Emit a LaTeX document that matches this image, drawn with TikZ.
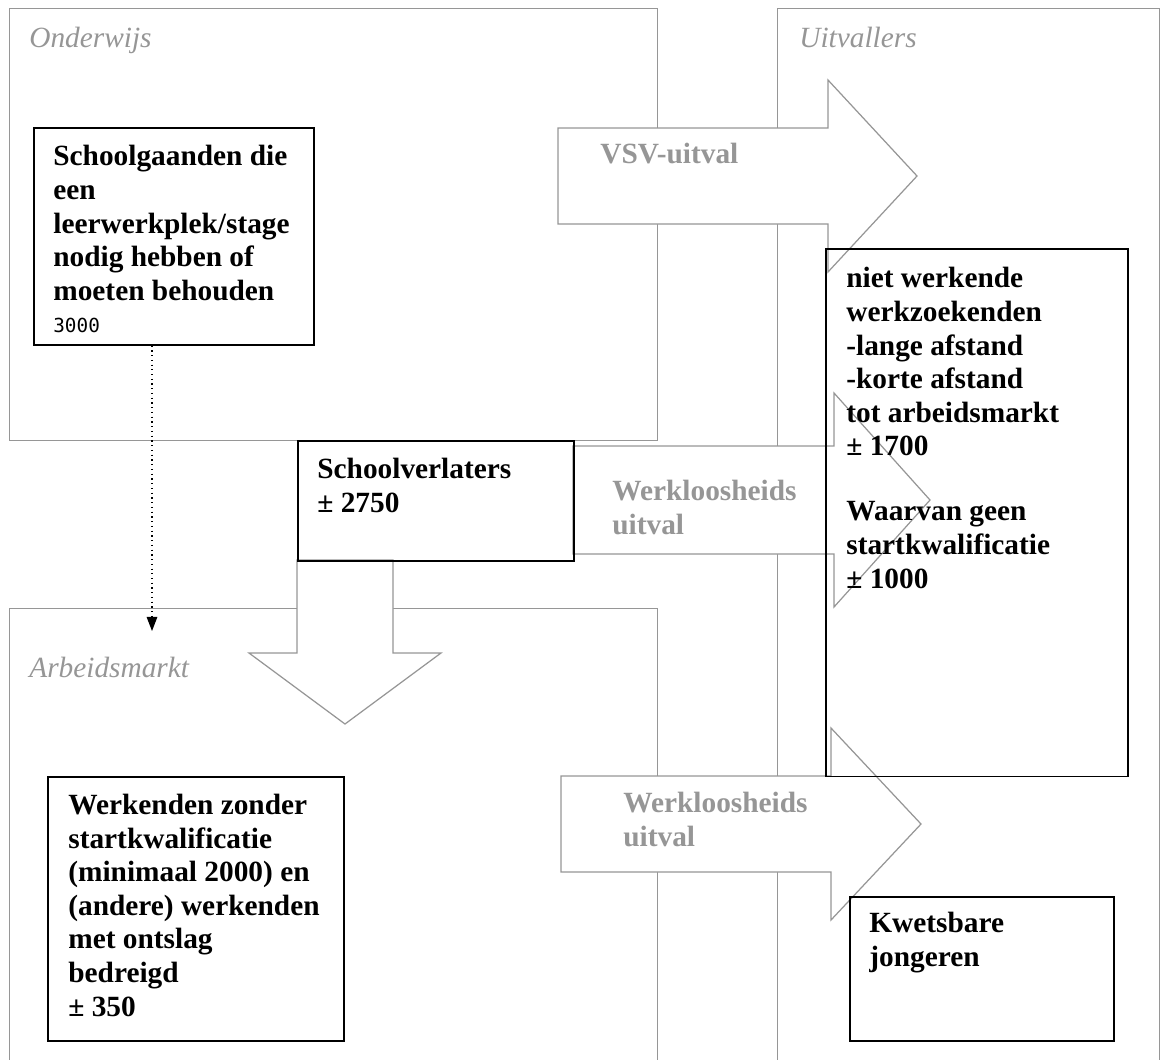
\documentclass[tikz,border=0pt]{standalone}
\usepackage{fontspec}
\setmainfont{Liberation Serif}
\newfontfamily\numfont{DejaVu Sans Mono}
\usetikzlibrary{arrows.meta}
\definecolor{areagray}{RGB}{150,150,150}

\begin{document}
\begin{tikzpicture}[x=0.02cm, y=-0.02cm,
          area/.style = {draw=areagray, line width=.7pt, anchor=north west, inner sep=0},
          blk/.style = {draw, line width=.9pt, anchor=north west, inner sep=0},
          bigarrow/.style = {draw=areagray, fill=white, line width=.7pt},
          txt/.style = {anchor=base west, align=left, inner sep=0, font=\bfseries\fontsize{16.7}{19.1}\selectfont},
          areatxt/.style = {anchor=base west, inner sep=0, text=areagray, font=\itshape\fontsize{16.7}{19.1}\selectfont},
          arrtxt/.style = {txt, text=areagray}]
        \useasboundingbox (0,0) rectangle (1162,1059);
        % the three areas
        \node[area, minimum width=12.96cm, minimum height=8.64cm] (ow) at (9,8) {};
        \node[area, minimum width=7.64cm, minimum height=21.5cm] (uv) at (777,8) {};
        \node[area, minimum width=12.96cm, minimum height=9.5cm] (am) at (9,608) {};
        % block arrows
        \foreach \xa/\xb/\xc/\ya/\yb/\h in {558/828/917/128/224/48, 573/834/930/446/554/53, 561/831/921/776/872/48}
                 {
                   \draw[bigarrow] (\xa,\ya) -- (\xb,\ya) -- (\xb,{\ya-\h}) -- (\xc,{(\ya+\yb)/2})
                     -- (\xb,{\yb+\h}) -- (\xb,\yb) -- (\xa,\yb) -- cycle;
                 }
        \draw[bigarrow] (297,560) -- (297,653) -- (249,653) -- (345,724) -- (441,653) -- (393,653) -- (393,560) -- cycle;
        % boxes
        \node[blk, minimum width=5.6cm, minimum height=4.34cm] (sg) at (33,127) {};
        \node[blk, minimum width=5.52cm, minimum height=2.4cm] (sv) at (297,440) {};
        \node[blk, minimum width=6.04cm, minimum height=10.56cm] (nw) at (825,248) {};
        \node[blk, minimum width=5.92cm, minimum height=5.28cm] (wk) at (47,776) {};
        \node[blk, minimum width=5.28cm, minimum height=2.88cm] (kj) at (849,896) {};
        % labels (placed by the baseline of their last line)
        \node[areatxt] (owtxt) at (29,47) {Onderwijs};
        \node[areatxt] (uvtxt) at (799,47) {Uitvallers};
        \node[areatxt] (amtxt) at (29,677) {Arbeidsmarkt};
        \node[arrtxt] (vsv) at (600,163) {VSV-uitval};
        \node[arrtxt] (wu1) at (612,534) {Werkloosheids\\uitval};
        \node[arrtxt] (wu2) at (623,846) {Werkloosheids\\uitval};
        \node[txt] (sgtxt) at (53,332) {Schoolgaanden die\\een\\leerwerkplek/stage\\nodig hebben of\\moeten behouden\\[-1pt]{\numfont\mdseries\fontsize{11}{13}\selectfont 3000}};
        \node[txt] (svtxt) at (317,512) {Schoolverlaters\\± 2750};
        \node[txt] (nwtxt) at (846,588) {niet werkende\\werkzoekenden\\-lange afstand\\-korte afstand\\tot arbeidsmarkt\\± 1700\\[18pt]Waarvan geen\\startkwalificatie\\± 1000};
        \node[txt] (wktxt) at (68,1016) {Werkenden zonder\\startkwalificatie\\(minimaal 2000) en\\(andere) werkenden\\met ontslag\\bedreigd\\± 350};
        \node[txt] (kjtxt) at (869,966) {Kwetsbare\\jongeren};
        % dotted link
        \coordinate (amin) at (152,631);
        \draw[dotted, line width=.7pt, -{Triangle[width=6pt,length=8pt]}] (sg.south -| amin) -- (amin);
\end{tikzpicture}
\end{document}
